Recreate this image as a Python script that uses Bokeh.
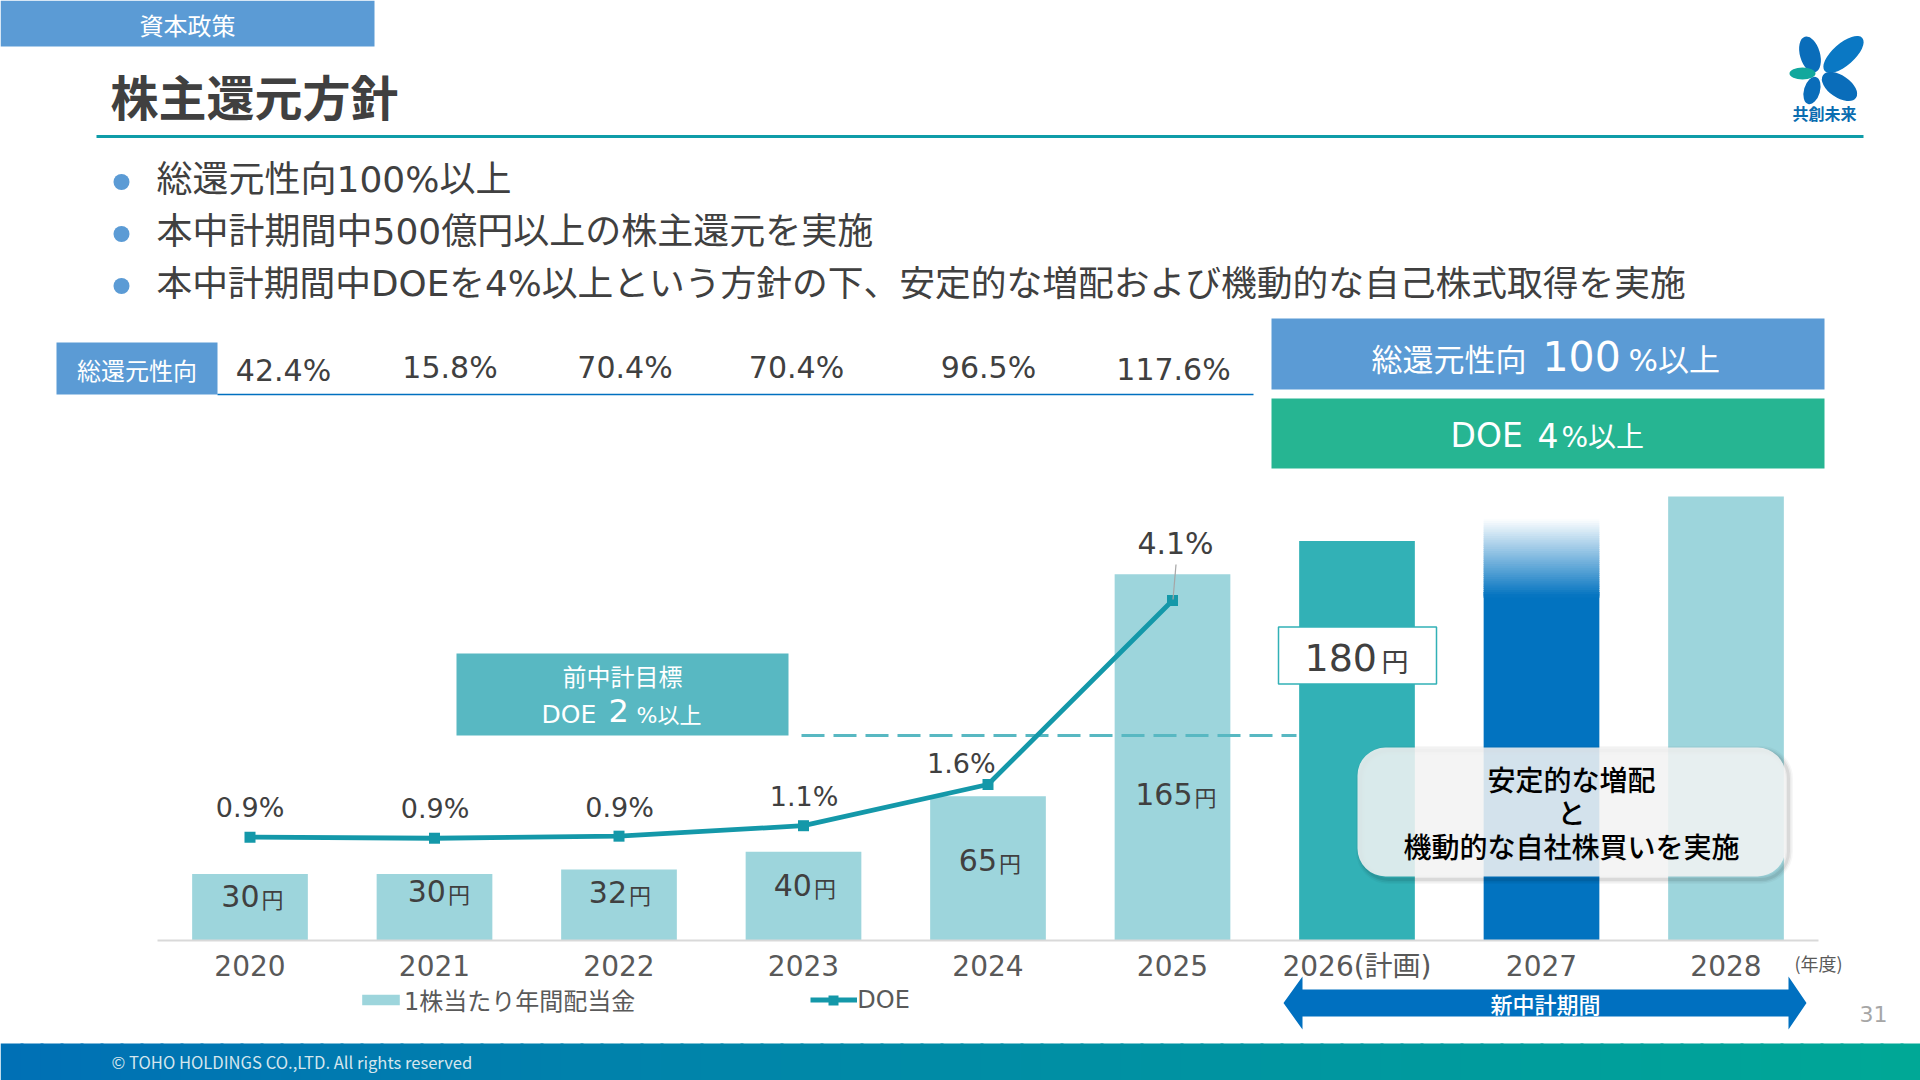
from bokeh.core.properties import value
from bokeh.embed import file_html
from bokeh.resources import INLINE
from bokeh.plotting import figure
from bokeh.models import (Range1d, LinearAxis, FixedTicker, Label, BoxAnnotation, Legend, LegendItem,
                          ColumnDataSource)

# ---------- data ----------
years = [2020, 2021, 2022, 2023, 2024, 2025, 2026, 2027, 2028]
year_labels = ["2020", "2021", "2022", "2023", "2024", "2025", "2026(計画)", "2027", "2028"]
dividend = [30, 30, 32, 40, 65, 165, 180, 190, 200]
dividend_labels = ["30", "30", "32", "40", "65", "165"]
doe_years = [2020, 2021, 2022, 2023, 2024, 2025]
doe_values = [0.884, 0.87, 0.898, 1.04, 1.6, 4.1]
doe_labels = ["0.9%", "0.9%", "0.9%", "1.1%", "1.6%", "4.1%"]
return_labels = ["42.4%", "15.8%", "70.4%", "70.4%", "96.5%", "117.6%"]
bullets = ["総還元性向100%以上", "本中計期間中500億円以上の株主還元を実施",
           "本中計期間中DOEを4%以上という方針の下、安定的な増配および機動的な自己株式取得を実施"]

# ---------- style / layout ----------
W, H, M = 1920, 1080, 0
CJK = "Noto Sans CJK JP"
CJKM = "'Noto Sans CJK JP Medium', 'Noto Sans CJK JP'"
MIX = "'DejaVu Sans', 'Noto Sans CJK JP'"
DARK, GREY = "#404040", "#595959"
LIGHT, TEAL, BLUE, MID = "#9DD5DC", "#32B1B6", "#0273C0", "#58B8C2"
bar_colors = [LIGHT] * 6 + [TEAL, BLUE, LIGHT]
LINE = "#1498A9"

base_y, px_yen = 940.0, 2.22
doe_ref_y, px_doe = 784.0, 73.6
yr0, px_yr = 249.5, 184.5

p = figure(width=W, height=H, output_backend="svg", toolbar_location=None,
           x_range=Range1d(M, M + W), y_range=Range1d(M + H, M),
           x_axis_location=None, y_axis_location=None, min_border=0, outline_line_color=None)
p.grid.visible = False
p.extra_x_ranges["year"] = Range1d(2020 + (M - yr0) / px_yr, 2020 + (M + W - yr0) / px_yr)
p.extra_y_ranges["yen"] = Range1d((base_y - (M + H)) / px_yen, (base_y - M) / px_yen)
p.extra_y_ranges["doe"] = Range1d(1.6 + (doe_ref_y - (M + H)) / px_doe, 1.6 + (doe_ref_y - M) / px_doe)


def lab(x, y, text, size, color=DARK, font=MIX, align="center", style="normal"):
    p.add_layout(Label(x=x, y=y, text=text, text_font_size=f"{size}px", text_color=color, text_font=font,
                       text_align=align, text_baseline="middle", text_font_style=style))


def rect(x0, x1, y0, y1, color, **kw):
    return p.quad(left=x0, right=x1, top=y0, bottom=y1, fill_color=color, line_color=None, **kw)


# header
rect(M, 374, M, 46, "#5B9BD5")
lab(187, 24, "資本政策", 24, "#FFFFFF", CJK)
lab(110, 94, "株主還元方針", 48, DARK, CJK, "left", "bold")
rect(96, 1863, 134.5, 137.5, "#0E9CA8")

# logo
p.ellipse(x=[1809.5], y=[54], width=[20], height=[37], angle=[0.28], fill_color="#0A6DBA", line_color=None)
p.ellipse(x=[1843], y=[54], width=[50], height=[22], angle=[0.72], fill_color="#0A78C4", line_color=None)
p.ellipse(x=[1802], y=[73], width=[26], height=[12], fill_color="#12A89D", line_color=None)
p.ellipse(x=[1811.5], y=[90], width=[16], height=[28], angle=[-0.28], fill_color="#0A6DBA", line_color=None)
p.ellipse(x=[1839], y=[86], width=[40], height=[22], angle=[-0.6], fill_color="#0A6DBA", line_color=None)
lab(1824, 112, "共創未来", 16, "#0A6DB0", CJK, "center", "bold")

# bullets
for y, t, s in zip([179, 231, 283], bullets, [36, 36, 35.75]):
    p.circle(x=[121], y=[y + 2.5], radius=8, fill_color="#5B9BD5", line_color=None)
    lab(156, y, t, s, DARK, MIX, "left")

# total return row
rect(56, 217, 342, 394, "#5B9BD5")
lab(136.5, 369, "総還元性向", 24, "#FFFFFF", CJK)
p.segment(x0=[217], x1=[1253], y0=[394], y1=[394], line_color="#0070C0", line_width=1.5)
return_x = [283, 449.5, 624.5, 796, 988, 1173]
return_y = [370, 367, 367, 367, 367, 369]
p.text(x=return_x, y=return_y, text=return_labels, text_font_size=value("30px"), text_font=value(MIX), text_color=DARK,
       text_align="center", text_baseline="middle")

# policy boxes
rect(1271, 1824, 318, 389, "#5B9BD5")
rect(1271, 1824, 398, 468, "#26B592")
lab(1371, 357, "総還元性向", 31, "#FFFFFF", CJK, "left")
lab(1542, 355, "100", 41, "#FFFFFF", MIX, "left")
lab(1628, 359, "%以上", 31, "#FFFFFF", MIX, "left")
lab(1450, 435, "DOE", 33, "#FFFFFF", MIX, "left")
lab(1537, 435, "4", 33, "#FFFFFF", MIX, "left")
lab(1561, 437, "%以上", 28, "#FFFFFF", MIX, "left")

# bars
src = ColumnDataSource(dict(year=years, dividend=dividend, color=bar_colors))
bars = p.vbar(x="year", top="dividend", bottom=0, width=115.7 / px_yr, fill_color="color", line_color=None,
              source=src, x_range_name="year", y_range_name="yen")

# gradient fade at the top of the 2027 bar: opaque slices painted top-down, each overlapped by the next
fade_top, fade_low, steps = dividend[7], 155.0, 36
blue_rgb = (2, 115, 192)
p.vbar(x=[years[7]], top=[fade_top + 1], bottom=[fade_low + 2], width=118 / px_yr, fill_color="#FFFFFF", line_color=None,
       x_range_name="year", y_range_name="yen")
for i in range(steps):
    a = (i + 0.5) / steps
    col = "#%02x%02x%02x" % tuple(round(255 + (c - 255) * a) for c in blue_rgb)
    p.vbar(x=[years[7]], top=[fade_top - (fade_top - fade_low) * i / steps],
           bottom=[fade_top - (fade_top - fade_low) * (i + 1.6) / steps], width=115.7 / px_yr,
           fill_color=col, line_color=None, x_range_name="year", y_range_name="yen")

# prior target
rect(456, 788, 653, 735, MID)
lab(622, 675, "前中計目標", 24, "#FFFFFF", CJK)
lab(541, 714, "DOE", 25, "#FFFFFF", MIX, "left")
lab(608, 710, "2", 32, "#FFFFFF", MIX, "left")
lab(636, 715, "%以上", 22, "#FFFFFF", MIX, "left")
p.line(x=[801, 1296], y=[735, 735], line_color=MID, line_width=3, line_dash=[23, 9])

# DOE line
doe_line = p.line(x=doe_years, y=doe_values, line_color=LINE, line_width=4.8, x_range_name="year", y_range_name="doe")
doe_pts = p.scatter(x=doe_years, y=doe_values, marker="square", size=11, fill_color=LINE, line_color=None,
                    x_range_name="year", y_range_name="doe")
p.segment(x0=[1172.5], x1=[1175.5], y0=[599], y1=[564], line_color="#A6A6A6", line_width=1.2)

doe_label_x = [249.5, 434.6, 619, 803.6, 960.8, 1175]
doe_label_y = [806.7, 808, 806.7, 796, 762.7, 543]
doe_label_size = ["27px"] * 5 + ["30px"]
p.text(x=doe_label_x, y=doe_label_y, text=doe_labels, text_font_size=doe_label_size, text_font=value(MIX), text_color=DARK,
       text_align="center", text_baseline="middle")

# dividend labels
label_y = [895.5, 890.5, 891.5, 884.5, 859.5, 793]
label_dx = [10.5, 12.4, 9, 9.4, 10, 21]
p.text(x=years[:6], y=label_y, text=dividend_labels, x_offset=[d - 1 for d in label_dx], text_font_size=value("30px"), text_font=value(MIX),
       text_color=DARK, text_align="right", text_baseline="middle", x_range_name="year")
p.text(x=years[:6], y=[v + 2 for v in label_y], text=["円"] * 6, x_offset=[d + 1 for d in label_dx], text_font_size=value("22px"), text_font=value(CJK),
       text_color=DARK, text_align="left", text_baseline="middle", x_range_name="year")

# 180 yen tag
p.quad(left=[1278], right=[1436], top=[626.5], bottom=[683.5], fill_color="#FFFFFF", line_color=TEAL, line_width=1.5)
lab(1304, 657, "180", 38, DARK, MIX, "left")
lab(1381, 660, "円", 27, DARK, CJK, "left")

# axis
axis = LinearAxis(x_range_name="year", y_range_name="yen", fixed_location=0,
                  ticker=FixedTicker(ticks=years), bounds=(2019.5, 2028.5),
                  major_label_overrides={y: t for y, t in zip(years, year_labels)},
                  major_tick_line_color=None, minor_tick_line_color=None,
                  axis_line_color="#D9D9D9", axis_line_width=2,
                  major_label_text_font=MIX, major_label_text_font_size="28px",
                  major_label_text_color=GREY, major_label_standoff=3)
p.add_layout(axis, "below")

# callout shadow + box
for w, a in [(9, 0.03), (6, 0.05), (3, 0.07)]:
    p.add_layout(BoxAnnotation(left=1360, right=1788, top=750, bottom=879, fill_alpha=0, line_color="#000000",
                               line_alpha=a, line_width=w, border_radius=28))
p.add_layout(BoxAnnotation(left=1357, right=1785, top=747, bottom=876, fill_color="#F2F2F2", fill_alpha=0.87,
                           line_color=None, border_radius=28))
lab(1571, 778, "安定的な増配", 28, "#000000", CJKM)
lab(1571, 811, "と", 28, "#000000", CJKM)
lab(1571, 845, "機動的な自社株買いを実施", 28, "#000000", CJKM)

# mid-term period arrow
p.patch(x=[1283, 1302, 1302, 1788, 1788, 1806, 1788, 1788, 1302, 1302],
        y=[1002.5, 976, 989, 989, 976, 1002.5, 1029, 1016, 1016, 1029], fill_color="#0070C0", line_color=None)
lab(1545, 1002, "新中計期間", 22, "#FFFFFF", CJKM)
lab(1818, 962, "(年度)", 18, GREY, CJK)
lab(1873, 1013, "31", 22, "#A6A6A6", MIX)

# footer gradient
n = 96
c0, c1 = (0, 112, 181), (0, 168, 150)
for i in range(n):
    t = (i + 0.5) / n
    col = "#%02x%02x%02x" % tuple(round(a + (b - a) * t) for a, b in zip(c0, c1))
    rect(M + W * i / n, M + W * (i + 1) / n + 3, 1043, M + H, col)
lab(111, 1061, "© TOHO HOLDINGS CO.,LTD. All rights reserved", 16.6, "#D5E6EE", CJK, "left")

# legend
legend = Legend(items=[LegendItem(label="1株当たり年間配当金", renderers=[bars], index=0),
                       LegendItem(label="DOE", renderers=[doe_line, doe_pts])],
                orientation="horizontal", location=(357, 63), spacing=175, padding=0, margin=0,
                glyph_width=47, glyph_height=13, label_standoff=0, label_text_font=MIX,
                label_text_font_size="24px", label_text_color=GREY, background_fill_alpha=0,
                border_line_color=None, label_height=26)
p.add_layout(legend, "center")
# square of the DOE legend key, drawn at the reference's size
p.scatter(x=[833], y=[1000], marker="square", size=10, fill_color=LINE, line_color=None, level="overlay")

open("out.html", "w").write(file_html(p, INLINE))
